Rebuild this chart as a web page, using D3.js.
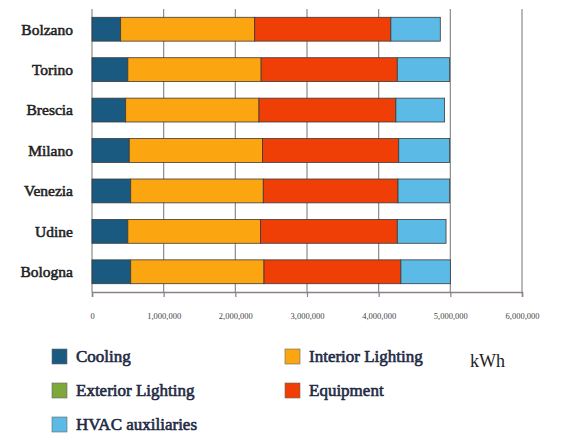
<!DOCTYPE html>
<html>
<head>
<meta charset="utf-8">
<script src="https://cdn.jsdelivr.net/npm/d3@7"></script>
<style>
  html, body { margin: 0; padding: 0; background: #fff; }
  svg { display: block; }
</style>
</head>
<body>
<svg id="chart" width="563" height="434"></svg>
<script>
// Annual electricity use by end use, per city (kWh)
const cities = ["Bolzano", "Torino", "Brescia", "Milano", "Venezia", "Udine", "Bologna"];
const seriesNames = ["Cooling", "Exterior Lighting", "Interior Lighting", "Equipment", "HVAC auxiliaries"];
const cooling          = [400000, 500000, 470000, 520000, 540000, 500000, 540000];
const exteriorLighting = [0, 0, 0, 0, 0, 0, 0];
const interiorLighting = [1870000, 1860000, 1860000, 1860000, 1850000, 1850000, 1860000];
const equipment        = [1900000, 1900000, 1910000, 1900000, 1880000, 1910000, 1910000];
const hvacAuxiliaries  = [690000, 730000, 680000, 710000, 720000, 680000, 690000];
const tickValues = [0, 1000000, 2000000, 3000000, 4000000, 5000000, 6000000];
const tickLabels = ["0", "1,000,000", "2,000,000", "3,000,000", "4,000,000", "5,000,000", "6,000,000"];
const unitLabel = "kWh";

const colors = {
  "Cooling": "#1b5a80",
  "Exterior Lighting": "#7ea83a",
  "Interior Lighting": "#fba511",
  "Equipment": "#ef3f06",
  "HVAC auxiliaries": "#5bbbe6"
};

const seriesValues = {
  "Cooling": cooling,
  "Exterior Lighting": exteriorLighting,
  "Interior Lighting": interiorLighting,
  "Equipment": equipment,
  "HVAC auxiliaries": hvacAuxiliaries
};

const rows = cities.map((c, i) => {
  const r = { city: c };
  seriesNames.forEach(s => r[s] = seriesValues[s][i]);
  return r;
});

const serif = "Liberation Serif";

const svg = d3.select("#chart");
const x = d3.scaleLinear().domain([0, 6000000]).range([92, 522]);
const y = d3.scaleBand().domain(cities).range([9, 292]).paddingInner(0.41).paddingOuter(0.205);

// vertical grid lines
svg.append("g").selectAll("line").data(tickValues).join("line")
  .attr("x1", d => x(d)).attr("x2", d => x(d))
  .attr("y1", 9).attr("y2", 292)
  .attr("stroke", "#8a8a8a").attr("stroke-width", 1.2);

// bottom axis
const xAxis = d3.axisBottom(x).tickValues(tickValues).tickSize(5).tickFormat((d, i) => tickLabels[i]);
const ax = svg.append("g").attr("transform", "translate(0,292)").call(xAxis);
ax.select(".domain").attr("stroke", "#8a7f8a").attr("stroke-width", 1.5);
ax.selectAll(".tick line").attr("stroke", "#8a7f8a").attr("stroke-width", 1.2);
ax.selectAll(".tick text")
  .attr("y", 21)
  .attr("font-family", serif)
  .attr("font-size", 8.5)
  .attr("fill", "#444");

// stacked bars
const stack = d3.stack().keys(seriesNames);
const stacked = stack(rows);
svg.append("g").selectAll("g").data(stacked).join("g")
  .attr("fill", d => colors[d.key])
  .selectAll("rect").data(d => d.filter(p => p[1] > p[0])).join("rect")
  .attr("x", d => x(d[0]))
  .attr("y", d => y(d.data.city))
  .attr("width", d => x(d[1]) - x(d[0]))
  .attr("height", y.bandwidth())
  .attr("stroke", "#3a3a3a")
  .attr("stroke-width", 0.8);

// category labels (heavy strokes give a bold serif look)
svg.append("g").selectAll("text").data(cities).join("text")
  .attr("x", 73)
  .attr("y", d => y(d) + y.bandwidth() / 2)
  .attr("dy", "0.35em")
  .attr("text-anchor", "end")
  .attr("font-family", serif)
  .attr("font-size", 15.5)
  .attr("fill", "#222")
  .attr("stroke", "#222")
  .attr("stroke-width", 0.55)
  .text(d => d);

// legend
const legendOrder = ["Cooling", "Interior Lighting", "Exterior Lighting", "Equipment", "HVAC auxiliaries"];
const lg = svg.append("g");
legendOrder.forEach((name, i) => {
  const col = i % 2, row = Math.floor(i / 2);
  const lx = col === 0 ? 52 : 285;
  const ly = 349 + row * 34;
  lg.append("rect")
    .attr("x", lx).attr("y", ly)
    .attr("width", 15).attr("height", 15)
    .attr("fill", colors[name])
    .attr("stroke", "#666").attr("stroke-width", 0.6);
  lg.append("text")
    .attr("x", lx + 24).attr("y", ly + 7)
    .attr("dy", "0.35em")
    .attr("font-family", serif)
    .attr("font-size", 17)
    .attr("fill", "#1e2a44")
    .attr("stroke", "#1e2a44")
    .attr("stroke-width", 0.6)
    .text(name);
});

svg.append("text")
  .attr("x", 470).attr("y", 361)
  .attr("dy", "0.35em")
  .attr("font-family", serif)
  .attr("font-size", 18)
  .attr("fill", "#222")
  .text(unitLabel);
</script>
</body>
</html>
